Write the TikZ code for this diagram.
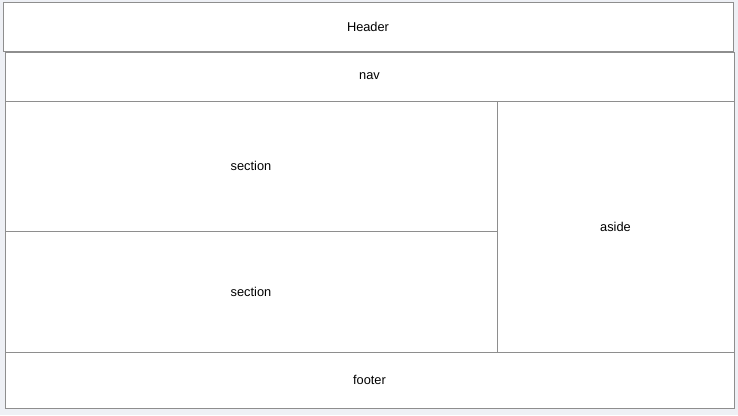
\documentclass[tikz,border=0pt]{standalone}
\usepackage{fontspec}
\setmainfont{Liberation Sans}
\usetikzlibrary{positioning}

\definecolor{pagebg}{HTML}{EEF0F5}
\definecolor{boxline}{HTML}{8E8E8E}

\begin{document}
\begin{tikzpicture}[x=1pt,y=-1pt,
    block/.style={draw=boxline,line width=0.9pt,fill=white,inner sep=0pt,
      outer sep=0pt,font=\fontsize{12.8}{15}\selectfont}]
  % page background
  \fill[pagebg] (0,0) rectangle (738,415);
  \useasboundingbox (0,0) rectangle (738,415);

  \node[block,minimum width=730,minimum height=49] (header) at (368,26.5) {Header};
  \node[block,minimum width=729,minimum height=49] (nav) at (369.5,76.5) {nav};

  % main area
  \node[block,minimum width=492,minimum height=130] (sec1) at (251,166) {section};
  \node[block,minimum width=492,minimum height=121] (sec2) at (251,291.5) {section};
  \node[block,minimum width=237,minimum height=251] (aside) at (615.5,226.5) {aside};

  \node[block,minimum width=729,minimum height=56.5] (footer) at (369.5,380.25) {footer};
\end{tikzpicture}
\end{document}
